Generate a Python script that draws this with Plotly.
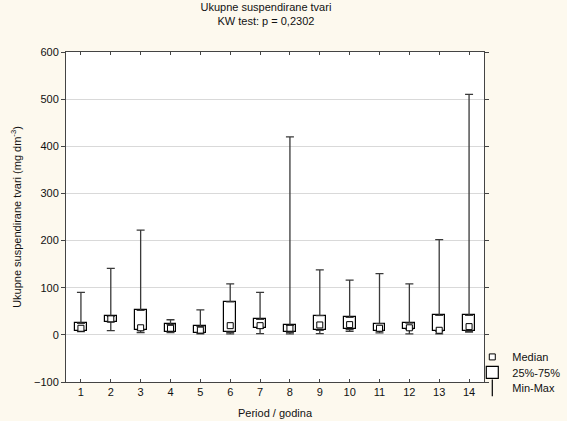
import plotly.graph_objects as go

periods = list(range(1, 15))
tick_labels = [str(p) for p in periods]
mins = [7, 9, 5, 5, 2, 2, 2.5, 2, 2.6, 7.6, 4, 2, 2, 6]
q1 = [8, 27, 10, 6, 4, 5.5, 14, 5.5, 9.7, 11.8, 8.2, 11.8, 7.6, 8]
medians = [14, 34, 15, 14, 10, 19.5, 19.5, 14, 21, 21.7, 14, 15, 9.7, 17.5]
q3 = [24.6, 39, 52, 22, 18, 70, 33, 20, 41, 37, 24, 25, 41.5, 41.5]
maxs = [90, 141, 222, 32, 53, 108, 90, 420, 138, 116, 130, 108, 202, 510]

FONT = "Liberation Sans, Arial, sans-serif"
WHISK = "#3a3a3a"

fig = go.Figure()

# boxes 25%-75%
fig.add_trace(go.Bar(
    x=periods, y=[b - a for a, b in zip(q1, q3)], base=q1, width=0.4,
    marker=dict(color="white", line=dict(color="black", width=1.2)),
    name="25%-75%", legend="legend2", hoverinfo="skip"))

# upper whiskers
fig.add_trace(go.Scatter(
    x=periods, y=q3, mode="markers", marker=dict(size=0.1, color="rgba(0,0,0,0)"),
    error_y=dict(type="data", symmetric=False, array=[b - a for a, b in zip(q3, maxs)],
                 arrayminus=[0] * 14, color=WHISK, thickness=1.3, width=4),
    showlegend=False, hoverinfo="skip"))
# lower whiskers
fig.add_trace(go.Scatter(
    x=periods, y=mins, mode="markers", marker=dict(size=0.1, color="rgba(0,0,0,0)"),
    error_y=dict(type="data", symmetric=False, array=[b - a for a, b in zip(mins, q1)],
                 arrayminus=[0] * 14, color=WHISK, thickness=1.3, width=4),
    showlegend=False, hoverinfo="skip"))

# medians
fig.add_trace(go.Scatter(
    x=periods, y=medians, mode="markers",
    marker=dict(symbol="square", size=6, color="white", line=dict(color="black", width=1)),
    name="Median", legend="legend", hoverinfo="skip"))

# legend entry for Min-Max
fig.add_trace(go.Scatter(
    x=[None], y=[None], mode="markers",
    marker=dict(symbol="line-ns-open", size=12, color="black", line=dict(color="black", width=1.2)),
    name="Min-Max", legend="legend3"))

LX = 0.972
leg = dict(x=LX, xanchor="left", yanchor="middle", bgcolor="rgba(0,0,0,0)",
           font=dict(size=11, family=FONT, color="#111"), itemwidth=30)

fig.update_layout(
    width=567, height=421,
    margin=dict(l=66, r=83, t=52, b=39, autoexpand=False),
    paper_bgcolor="#fdf9ee", plot_bgcolor="white",
    font=dict(family=FONT, size=11, color="#111"),
    title=dict(text="Ukupne suspendirane tvari<br>KW test: p = 0,2302",
               x=0.469, xanchor="center", y=0.975, yanchor="top",
               font=dict(family=FONT, size=11, color="#111")),
    showlegend=True,
    legend=dict(leg, y=0.076),
    legend2=dict(leg, y=0.029),
    legend3=dict(leg, y=-0.018),
    bargap=0,
)
fig.update_xaxes(
    range=[0.5, 14.5], tickmode="array", tickvals=periods, ticktext=tick_labels,
    ticks="inside", ticklen=3, tickcolor="#444", mirror="ticks",
    showline=True, linecolor="#444", linewidth=1, showgrid=False, zeroline=False,
    automargin=False,
    title=dict(text="Period / godina", standoff=12, font=dict(size=11)),
)
fig.update_yaxes(
    range=[-100, 600], tickmode="array", tickvals=[-100, 0, 100, 200, 300, 400, 500, 600],
    ticks="outside", ticklen=4, tickcolor="#444", mirror="ticks",
    showline=True, linecolor="#444", linewidth=1,
    showgrid=True, gridcolor="#d9d9d9", gridwidth=1, zeroline=False,
    automargin=False,
    title=dict(text="Ukupne suspendirane tvari (mg dm<sup>-3</sup>)", standoff=10, font=dict(size=11)),
)

fig.write_html("out.html", config={"displayModeBar": False},
               post_script="document.body.style.margin='0';document.body.style.background='#fdf9ee';document.body.style.overflow='hidden';")
